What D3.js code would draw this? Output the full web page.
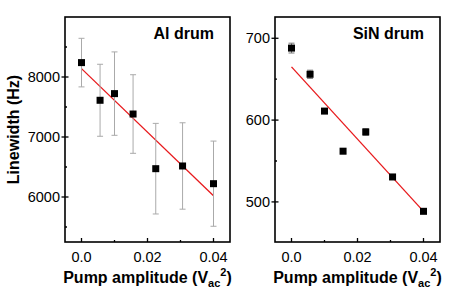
<!DOCTYPE html>
<html>
<head>
<script src="https://cdn.jsdelivr.net/npm/d3@7"></script>
<style>
  body { margin: 0; background: #fff; }
  text { font-family: "Liberation Sans", Arial, sans-serif; }
</style>
</head>
<body>
<div id="viz"></div>
<script>
// pump amplitude squared (V_ac^2)
var pump = [0, 0.005625, 0.01, 0.015625, 0.0225, 0.030625, 0.04];

var alWidth = [8240, 7612, 7723, 7383, 6472, 6517, 6222];
var alErr   = [405, 600, 695, 655, 755, 720, 710];
var alFitX  = [0, 0.04];
var alFitY  = [8140, 6022];

var sinWidth = [688, 656, 611, 562, 585.5, 530.5, 488.5];
var sinErr   = [6, 5, 3, 3, 4, 3, 2];
var sinFitX  = [0, 0.04];
var sinFitY  = [665, 488.5];

var xTicks = [0, 0.02, 0.04];
var alTicks = [6000, 7000, 8000];
var sinTicks = [500, 600, 700];

var W = 457, H = 292;
var svg = d3.select("#viz").append("svg")
    .attr("width", W).attr("height", H);

function panel(opt) {
    var x = d3.scaleLinear().domain([-0.005, 0.045]).range([opt.left, opt.right]);
    var y = d3.scaleLinear().domain(opt.yDomain).range([242, 17]);
    var g = svg.append("g");

    // x ticks, inward
    var xMinor = d3.range(0, 0.0451, 0.01);
    g.selectAll(".xt").data(xMinor).enter().append("line")
        .attr("x1", function(d){ return x(d); }).attr("x2", function(d){ return x(d); })
        .attr("y1", 242).attr("y2", function(d, i){ return i % 2 == 0 ? 238 : 240; })
        .attr("stroke", "#000").attr("stroke-width", 1.3);
    g.selectAll(".xl").data(xTicks).enter().append("text")
        .attr("x", function(d){ return x(d); }).attr("y", 262)
        .attr("text-anchor", "middle").style("font-size", "14.5px")
        .text(function(d){ return d == 0 ? "0.0" : d3.format(".2f")(d); });

    // y ticks, crossing the frame
    var yMinor = d3.range(opt.minorStart, opt.yDomain[1], opt.minorStep);
    g.selectAll(".yt").data(yMinor).enter().append("line")
        .attr("x1", function(d){ return opt.left - (opt.yTicks.indexOf(d) >= 0 ? 3.5 : 0); })
        .attr("x2", function(d){ return opt.left + (opt.yTicks.indexOf(d) >= 0 ? 3.5 : 2); })
        .attr("y1", function(d){ return y(d); }).attr("y2", function(d){ return y(d); })
        .attr("stroke", "#000").attr("stroke-width", 1.3);
    g.selectAll(".yl").data(opt.yTicks).enter().append("text")
        .attr("x", opt.left - 5).attr("y", function(d){ return y(d) + 5; })
        .attr("text-anchor", "end").style("font-size", "14.5px")
        .text(function(d){ return d; });

    // fit line
    g.append("line")
        .attr("x1", x(opt.fitX[0])).attr("y1", y(opt.fitY[0]))
        .attr("x2", x(opt.fitX[1])).attr("y2", y(opt.fitY[1]))
        .attr("stroke", "#e8191c").attr("stroke-width", 1.3);

    // error bars
    var eb = g.selectAll(".eb").data(pump).enter().append("g");
    eb.append("line")
        .attr("x1", function(d){ return x(d); }).attr("x2", function(d){ return x(d); })
        .attr("y1", function(d, i){ return y(opt.vals[i] + opt.errs[i]); })
        .attr("y2", function(d, i){ return y(opt.vals[i] - opt.errs[i]); })
        .attr("stroke", opt.errColor).attr("stroke-width", 1);
    [1, -1].forEach(function(s){
        eb.append("line")
            .attr("x1", function(d){ return x(d) - 3; }).attr("x2", function(d){ return x(d) + 3; })
            .attr("y1", function(d, i){ return y(opt.vals[i] + s * opt.errs[i]); })
            .attr("y2", function(d, i){ return y(opt.vals[i] + s * opt.errs[i]); })
            .attr("stroke", opt.errColor).attr("stroke-width", 1);
    });

    // squares
    g.selectAll(".pt").data(pump).enter().append("rect")
        .attr("x", function(d){ return x(d) - 3.5; })
        .attr("y", function(d, i){ return y(opt.vals[i]) - 3.5; })
        .attr("width", 7).attr("height", 7).attr("fill", "#000");

    // frame
    g.append("rect")
        .attr("x", opt.left).attr("y", 17)
        .attr("width", opt.right - opt.left).attr("height", 225)
        .attr("fill", "none").attr("stroke", "#000").attr("stroke-width", 1.6);

    g.append("text")
        .attr("x", opt.right - 16).attr("y", 39)
        .attr("text-anchor", "end").style("font-size", "16px").style("font-weight", "bold")
        .text(opt.title);

    var xl = g.append("text")
        .attr("x", (opt.left + opt.right) / 2).attr("y", 283)
        .attr("text-anchor", "middle").style("font-size", "16px").style("font-weight", "bold");
    xl.append("tspan").text("Pump amplitude (V");
    xl.append("tspan").attr("dy", 4).style("font-size", "11px").text("ac");
    xl.append("tspan").attr("dy", -11).style("font-size", "11px").text("2");
    xl.append("tspan").attr("dy", 7).text(")");
}

panel({ left: 65, right: 230, yDomain: [5250, 9000], minorStart: 5500, minorStep: 500,
        yTicks: alTicks, vals: alWidth, errs: alErr, fitX: alFitX, fitY: alFitY,
        errColor: "#aaaaaa", title: "Al drum" });
panel({ left: 275, right: 440, yDomain: [451, 726], minorStart: 500, minorStep: 50,
        yTicks: sinTicks, vals: sinWidth, errs: sinErr, fitX: sinFitX, fitY: sinFitY,
        errColor: "#777777", title: "SiN drum" });

svg.append("text")
    .attr("transform", "translate(19,129.5) rotate(-90)")
    .attr("text-anchor", "middle").style("font-size", "16px").style("font-weight", "bold")
    .text("Linewidth (Hz)");
</script>
</body>
</html>
